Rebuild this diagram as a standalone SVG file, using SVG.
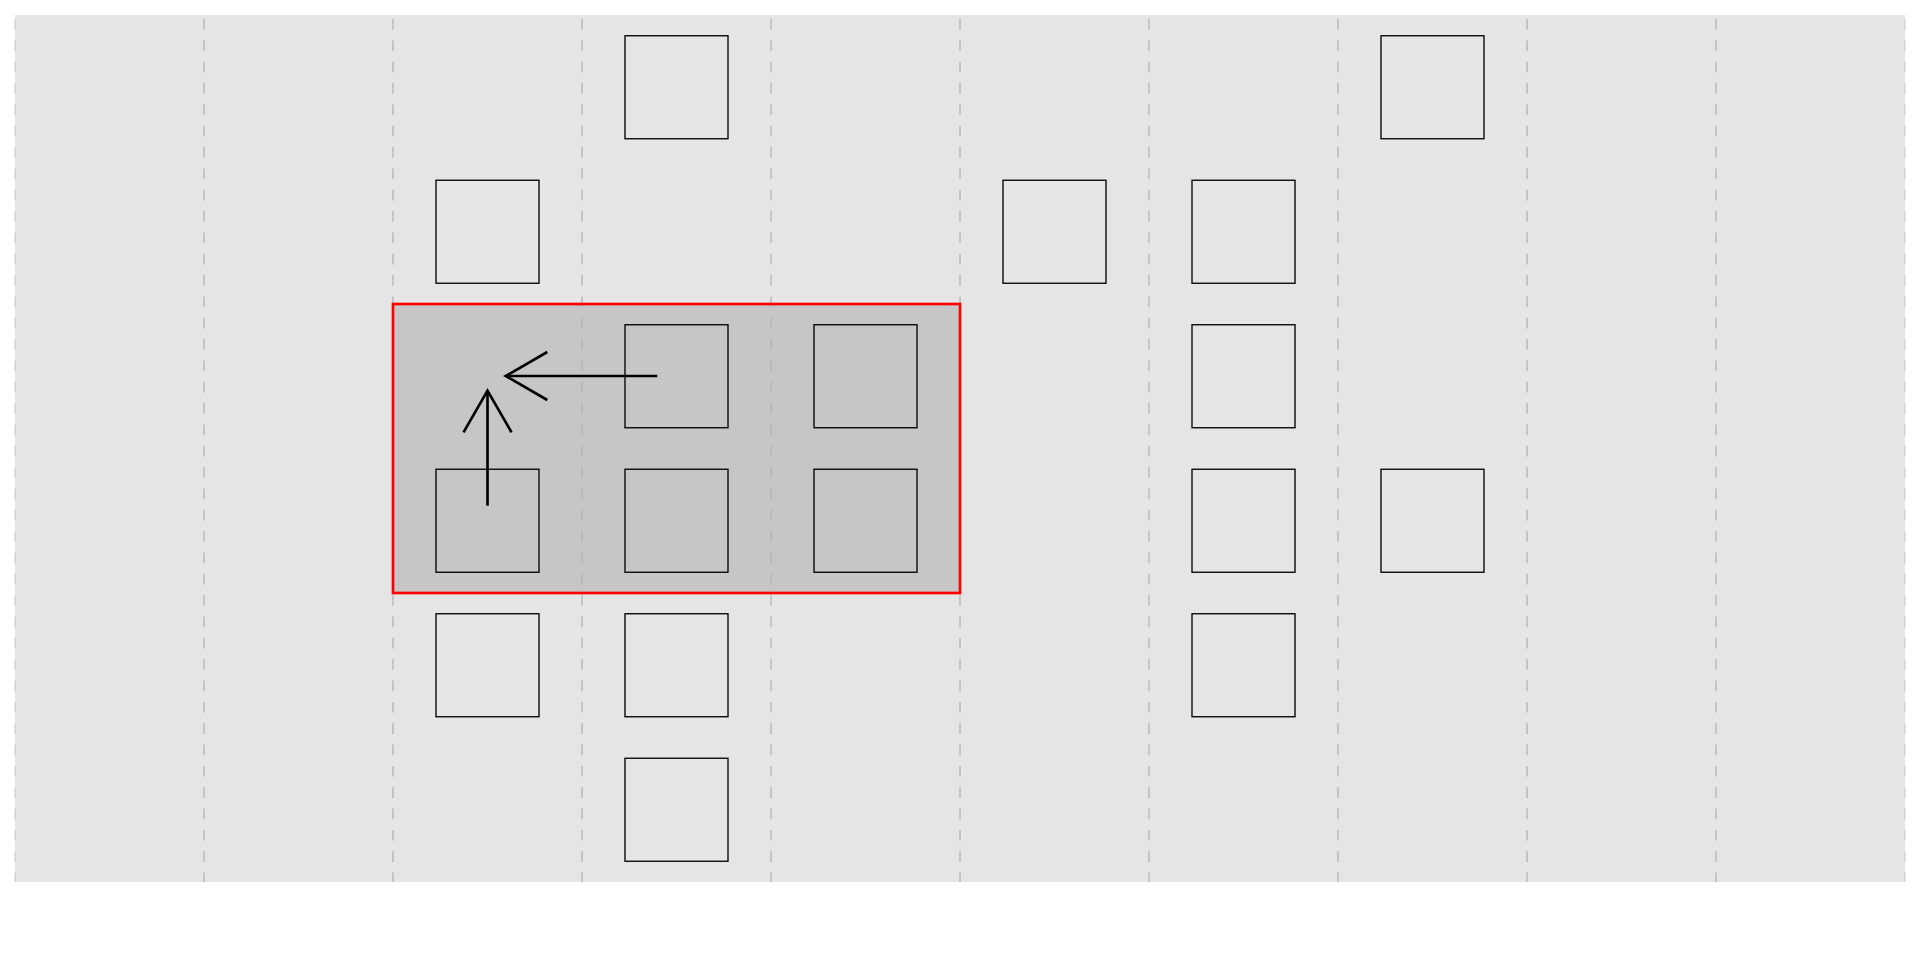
<svg xmlns="http://www.w3.org/2000/svg" width="1920" height="960" viewBox="0 0 1920 960">
  <style>
    .grid { stroke: #b3b3b3; stroke-width: 1.33; stroke-dasharray: 10.67 10.67; fill: none; }
    .edge { opacity: 0.5; }
    .box { fill: none; stroke: #000000; stroke-width: 1.33; }
    .conn { fill: none; stroke: #000000; stroke-width: 2.67; stroke-linejoin: miter; }
  </style>
  <defs>
    <marker id="chev" markerUnits="userSpaceOnUse" markerWidth="60" markerHeight="60" refX="0" refY="0" viewBox="-50 -30 60 60" orient="auto" overflow="visible">
      <path d="M -41.6 -24 L 0 0 L -41.6 24" fill="none" stroke="#000000" stroke-width="2.67" stroke-linejoin="miter"/>
    </marker>
  </defs>
  <rect width="1920" height="960" fill="#ffffff"/>
  <rect id="background" x="15" y="15" width="1890" height="867" fill="#e5e5e5"/>
  <rect id="zone" x="393" y="304" width="567" height="289" fill="#c6c6c6"/>
  <g id="gridlines">
    <line class="grid edge" x1="15" y1="19" x2="15" y2="882"/>
    <line class="grid" x1="204" y1="19" x2="204" y2="882"/>
    <line class="grid" x1="393" y1="19" x2="393" y2="882"/>
    <line class="grid" x1="582" y1="19" x2="582" y2="882"/>
    <line class="grid" x1="771" y1="19" x2="771" y2="882"/>
    <line class="grid" x1="960" y1="19" x2="960" y2="882"/>
    <line class="grid" x1="1149" y1="19" x2="1149" y2="882"/>
    <line class="grid" x1="1338" y1="19" x2="1338" y2="882"/>
    <line class="grid" x1="1527" y1="19" x2="1527" y2="882"/>
    <line class="grid" x1="1716" y1="19" x2="1716" y2="882"/>
    <line class="grid edge" x1="1905" y1="19" x2="1905" y2="882"/>
  </g>
  <rect id="zone-border" x="393" y="304" width="567" height="289" fill="none" stroke="#ff0000" stroke-width="2.67"/>
  <g id="nodes">
    <g id="n-3-0"><rect class="box" x="625" y="35.75" width="103" height="103"/></g>
    <g id="n-7-0"><rect class="box" x="1381" y="35.75" width="103" height="103"/></g>
    <g id="n-2-1"><rect class="box" x="436" y="180.25" width="103" height="103"/></g>
    <g id="n-5-1"><rect class="box" x="1003" y="180.25" width="103" height="103"/></g>
    <g id="n-6-1"><rect class="box" x="1192" y="180.25" width="103" height="103"/></g>
    <g id="n-3-2"><rect class="box" x="625" y="324.75" width="103" height="103"/></g>
    <g id="n-4-2"><rect class="box" x="814" y="324.75" width="103" height="103"/></g>
    <g id="n-6-2"><rect class="box" x="1192" y="324.75" width="103" height="103"/></g>
    <g id="n-2-3"><rect class="box" x="436" y="469.25" width="103" height="103"/></g>
    <g id="n-3-3"><rect class="box" x="625" y="469.25" width="103" height="103"/></g>
    <g id="n-4-3"><rect class="box" x="814" y="469.25" width="103" height="103"/></g>
    <g id="n-6-3"><rect class="box" x="1192" y="469.25" width="103" height="103"/></g>
    <g id="n-7-3"><rect class="box" x="1381" y="469.25" width="103" height="103"/></g>
    <g id="n-2-4"><rect class="box" x="436" y="613.75" width="103" height="103"/></g>
    <g id="n-3-4"><rect class="box" x="625" y="613.75" width="103" height="103"/></g>
    <g id="n-6-4"><rect class="box" x="1192" y="613.75" width="103" height="103"/></g>
    <g id="n-3-5"><rect class="box" x="625" y="758.25" width="103" height="103"/></g>
  </g>
  <g id="connectors">
    <path class="conn" d="M 657.3 376 L 505.7 376" marker-end="url(#chev)"/>
    <path class="conn" d="M 487.5 505.7 L 487.5 390.7" marker-end="url(#chev)"/>
  </g>
</svg>
